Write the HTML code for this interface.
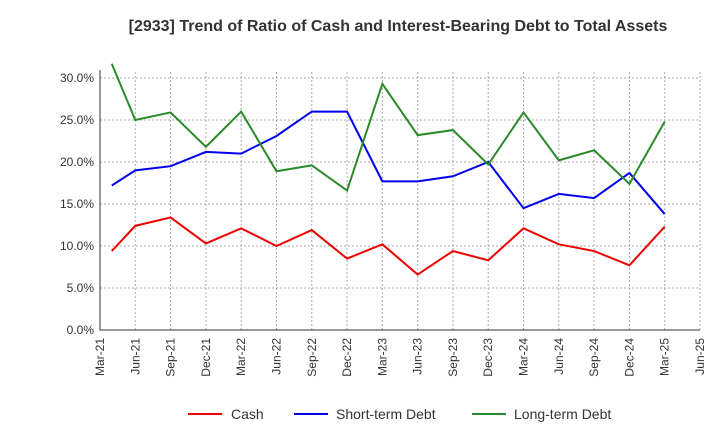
<!DOCTYPE html>
<html><head><meta charset="utf-8"><style>
body{margin:0;background:#fff;font-family:"Liberation Sans",sans-serif}
</style></head><body>
<svg id="chart" width="720" height="440" xmlns="http://www.w3.org/2000/svg" font-family="Liberation Sans, sans-serif">
<text x="398" y="31" text-anchor="middle" font-size="16" font-weight="bold" fill="#333">[2933]  Trend of Ratio of Cash and Interest-Bearing Debt to Total Assets</text>
<g id="grid"></g><g id="axes"></g><g id="series"></g>
<g font-size="14" fill="#333">
<line x1="188" y1="414" x2="222" y2="414" stroke="#e00" stroke-width="2"/><text x="231" y="419">Cash</text>
<line x1="294" y1="414" x2="328" y2="414" stroke="#00e" stroke-width="2"/><text x="336" y="419">Short-term Debt</text>
<line x1="472" y1="414" x2="506" y2="414" stroke="#2a8a2a" stroke-width="2"/><text x="514" y="419">Long-term Debt</text>
</g>
</svg>
<script>
const months=[1,3,6,9,12,15,18,21,24,27,30,33,36,39,42,45,48];
const cash=[9.4,12.4,13.4,10.3,12.1,10.0,11.9,8.5,10.2,6.6,9.4,8.3,12.1,10.2,9.4,7.7,12.3];
const shortDebt=[17.2,19.0,19.5,21.2,21.0,23.1,26.0,26.0,17.7,17.7,18.3,20.0,14.5,16.2,15.7,18.7,13.8];
const longDebt=[31.7,25.0,25.9,21.8,26.0,18.9,19.6,16.6,29.3,23.2,23.8,19.7,25.9,20.2,21.4,17.4,24.8];
const yTicks=[0,5,10,15,20,25,30];
const xLabels=["Mar-21","Jun-21","Sep-21","Dec-21","Mar-22","Jun-22","Sep-22","Dec-22","Mar-23","Jun-23","Sep-23","Dec-23","Mar-24","Jun-24","Sep-24","Dec-24","Mar-25","Jun-25"];
const NS="http://www.w3.org/2000/svg";
const X0=100,X1=700,Y0=330,Y30=78;
const x=m=>X0+m*(X1-X0)/51;
const y=v=>Y0-v*(Y0-Y30)/30;
function mk(t,a,p){const e=document.createElementNS(NS,t);for(const k in a)e.setAttribute(k,a[k]);p.appendChild(e);return e;}
const grid=document.getElementById('grid'),axes=document.getElementById('axes'),ser=document.getElementById('series');
yTicks.forEach(v=>{
 if(v>0){const g=mk('line',{x1:X0,x2:X1,y1:y(v),y2:y(v),stroke:'#aaa','stroke-dasharray':'2,2'},grid);
 }
 const t=mk('text',{x:X0-6,y:y(v)+4,'text-anchor':'end','font-size':12,fill:'#333'},axes);t.textContent=v.toFixed(1)+'%';
 
});
xLabels.forEach((l,i)=>{
 const xx=x(i*3);
 if(i>0){const g=mk('line',{x1:xx,x2:xx,y1:Y30-6,y2:Y0,stroke:'#aaa','stroke-dasharray':'2,2'},grid);
 }
 const t=mk('text',{transform:`translate(${xx+4},${Y0+8}) rotate(-90)`,'text-anchor':'end','font-size':12,fill:'#333'},axes);t.textContent=l;
 
});
const ax=mk('path',{d:`M${X0},${Y30-8}V${Y0}H${X1}`,stroke:'#333',fill:'none'},axes);

[[cash,'#e00','cash-line'],[shortDebt,'#00e','short-term-debt-line'],[longDebt,'#2a8a2a','long-term-debt-line']].forEach(([d,c,n])=>{
 const p=mk('polyline',{points:d.map((v,i)=>x(months[i])+','+y(v)).join(' '),fill:'none',stroke:c,'stroke-width':2},ser);
 
});
</script>
</body></html>
